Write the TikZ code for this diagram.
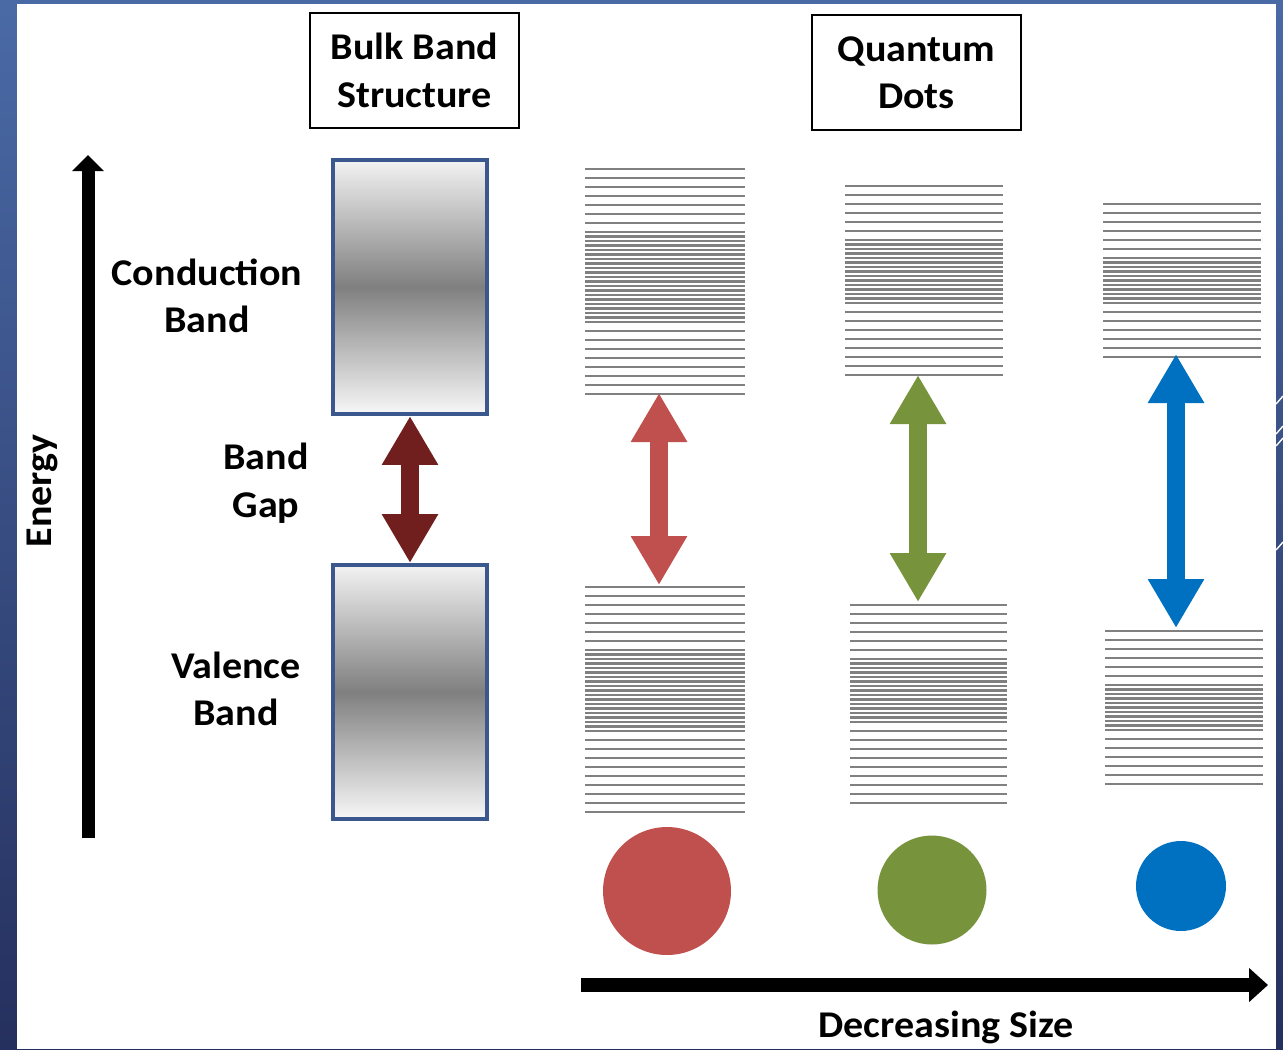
\documentclass[tikz,border=0pt]{standalone}
\usepackage{fontspec}
\setmainfont{Carlito}[FakeStretch=1.06]
\usetikzlibrary{arrows.meta}

\begin{document}
\begin{tikzpicture}[x=0.02cm,y=-0.02cm,font=\fontsize{21.5}{27}\selectfont\bfseries,
  lbl/.style={align=center,inner sep=0pt},
  level/.style={draw=gray,line width=1.4pt},
  titlebox/.style={draw,line width=1.1pt,align=center,minimum width=4.18cm,minimum height=2.3cm},
  bandbox/.style={draw=bandedge,line width=2.3pt,minimum width=3.08cm,minimum height=5.08cm,
    top color=gray!10,bottom color=gray!6,middle color=gray},
  gaparrow/.style={line width=0.35cm,{Triangle[width=1.06cm,length=0.98cm]}-{Triangle[width=1.06cm,length=0.98cm]}},
  dot/.style={circle,inner sep=0pt}]
  \definecolor{slidetop}{RGB}{74,106,166}
  \definecolor{slidebot}{RGB}{37,48,94}
  \definecolor{bandedge}{RGB}{58,88,142}
  \definecolor{gapred}{RGB}{112,30,30}
  \definecolor{qdred}{RGB}{192,80,77}
  \definecolor{qdgreen}{RGB}{119,147,60}
  \definecolor{qdblue}{RGB}{0,112,192}

  % slide frame
  \useasboundingbox (0,0) rectangle (1283,1049);
  \shade[top color=slidetop,bottom color=slidebot] (0,0) rectangle (1283,1049);
  \fill[white] (17,4) rectangle (1276,1049);
  \foreach \y in {404,434,446,550}
    {\draw[white,line width=0.8pt] (1276,\y) -- (1283,\y-8);}

  % headings
  \node[titlebox] (bulk) at (414.5,70.5) {Bulk Band\\Structure};
  \node[titlebox] (qd) at (916.5,72.5) {Quantum\\Dots};

  % energy axis
  \coordinate (ebot) at (88,838);
  \coordinate (etop) at (88,155);
  \draw[line width=0.26cm,-{Triangle[width=0.62cm,length=0.32cm]}] (ebot) -- (etop);
  \node[rotate=90] (energy) at (42,491) {Energy};

  % bulk bands
  \node[bandbox] (cb) at (410,287) {};
  \node[bandbox] (vb) at (410,692) {};
  \node[lbl] (cblbl) at (207,296) {Conduction\\Band};
  \node[lbl] (gaplbl) at (266,483) {Band\\Gap};
  \node[lbl] (vblbl) at (236,689) {Valence\\Band};
  \draw[gaparrow,draw=gapred] (cb.south) -- (vb.north);

  % quantum dot levels
  \foreach \xa/\xb/\ya/\na/\nd/\nb in {585/745/169/6/20/7,585/745/587/6/18/8,
      845/1003/186/5/14/7,850/1007/605/5/14/8,1103/1261/204/5/10/5,1105/1263/631/5/10/5}
  {
    \pgfmathsetmacro\yd{\ya+9*(\na+1)}
    \pgfmathsetmacro\yb{\yd+4.5*\nd+9}
    \foreach \k in {0,...,\na} {\draw[level] (\xa,\ya+9*\k) -- (\xb,\ya+9*\k);}
    \foreach \k in {0,...,\nd} {\draw[level] (\xa,\yd+4.5*\k) -- (\xb,\yd+4.5*\k);}
    \foreach \k in {0,...,\nb} {\draw[level] (\xa,\yb+9*\k) -- (\xb,\yb+9*\k);}
  }

  \coordinate (rtop) at (659,393);
  \coordinate (rbot) at (659,585);
  \coordinate (gtop) at (918,375);
  \coordinate (gbot) at (918,602);
  \coordinate (btop) at (1176,354);
  \coordinate (bbot) at (1176,628);
  \draw[gaparrow,draw=qdred] (rtop) -- (rbot);
  \draw[gaparrow,draw=qdgreen] (gtop) -- (gbot);
  \draw[gaparrow,draw=qdblue] (btop) -- (bbot);

  % dots
  \node[dot,fill=qdred,minimum size=2.56cm] (rdot) at (667,891) {};
  \node[dot,fill=qdgreen,minimum size=2.18cm] (gdot) at (932,890) {};
  \node[dot,fill=qdblue,minimum size=1.8cm] (bdot) at (1181,886) {};

  % size axis
  \coordinate (sleft) at (581,985);
  \coordinate (sright) at (1268,985);
  \draw[line width=0.28cm,-{Triangle[width=0.66cm,length=0.38cm]}] (sleft) -- (sright);
  \node (size) at (946,1027) {Decreasing Size};
\end{tikzpicture}
\end{document}
